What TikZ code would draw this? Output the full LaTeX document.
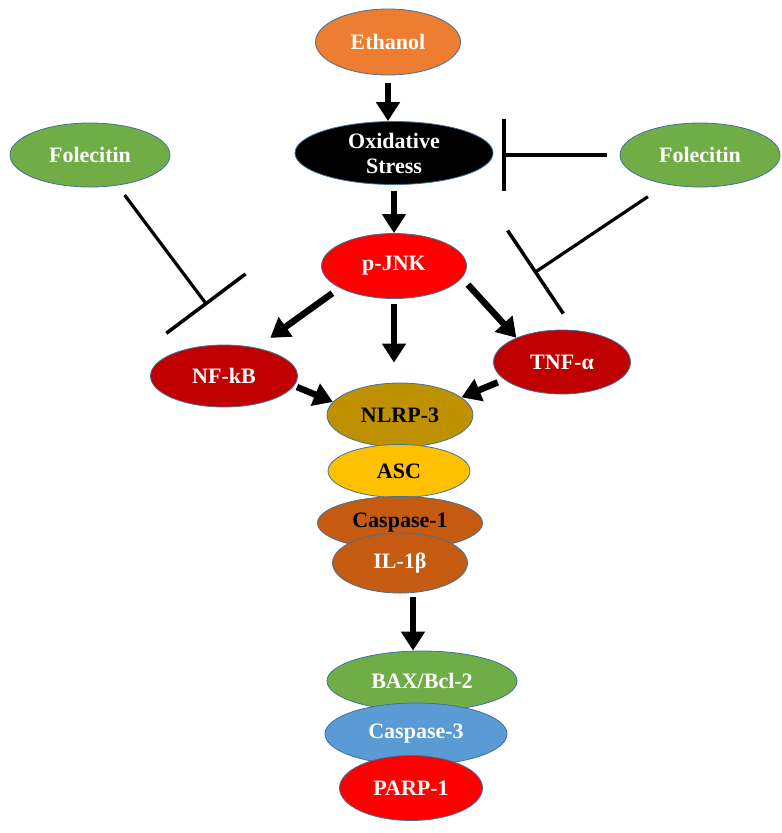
\documentclass[tikz,border=0pt]{standalone}
\usepackage{fontspec}
\setmainfont{Liberation Serif}
\usetikzlibrary{shapes.geometric, arrows.meta}

\definecolor{edgeblue}{HTML}{41719C}
\definecolor{ethorange}{HTML}{ED7D31}
\definecolor{folgreen}{HTML}{70AD47}
\definecolor{darkred}{HTML}{C00000}
\definecolor{nlrpgold}{HTML}{BF9000}
\definecolor{ascyellow}{HTML}{FFC000}
\definecolor{caspbrown}{HTML}{C55A11}
\definecolor{caspblue}{HTML}{5B9BD5}

\begin{document}
\begin{tikzpicture}[x=1pt, y=-1pt, font=\fontsize{22}{25}\selectfont\bfseries,
        bubble/.style={ellipse, draw=edgeblue, line width=0.8pt, inner sep=0pt, text=white, align=center},
        arr/.style={line width=6.5pt, -{Triangle[width=23pt, length=19pt]}},
        inhib/.style={line width=3.2pt}]
            \useasboundingbox (0,0) rectangle (782,833);

            % --- Nodes Placement ---
            \node[bubble, fill=ethorange, minimum width=145pt, minimum height=66pt] (ethanol) at (388,42) {Ethanol};
            \node[bubble, fill=black, minimum width=198pt, minimum height=63pt] (oxstress) at (394,153) {Oxidative\\Stress};
            \node[bubble, fill=folgreen, minimum width=160pt, minimum height=64pt] (folL) at (90,155) {Folecitin};
            \node[bubble, fill=folgreen, minimum width=160pt, minimum height=64pt] (folR) at (700,155) {Folecitin};
            \node[bubble, fill=red, minimum width=145pt, minimum height=65pt] (pjnk) at (394,266) {p-JNK};
            \node[bubble, fill=darkred, minimum width=147pt, minimum height=62pt] (nfkb) at (224,376) {NF-kB};
            \node[bubble, fill=darkred, minimum width=137pt, minimum height=64pt] (tnf) at (562,362) {TNF-α};

            \node[bubble, fill=nlrpgold, text=black, minimum width=146pt, minimum height=64pt] (nlrp) at (400,415) {NLRP-3};
            \node[bubble, fill=ascyellow, text=black, minimum width=142pt, minimum height=53pt] (asc) at (399,471) {ASC};
            \node[bubble, fill=caspbrown, text=black, minimum width=165pt, minimum height=53pt] (casp1) at (400,523) {Caspase-1};
            \node[bubble, fill=caspbrown, minimum width=135pt, minimum height=60pt] (il1b) at (400,563) {IL-1β};

            \node[bubble, fill=folgreen, minimum width=190pt, minimum height=60pt] (bax) at (422,681) {BAX/Bcl-2};
            \node[bubble, fill=caspblue, minimum width=182pt, minimum height=62pt] (casp3) at (416,734) {Caspase-3};
            \node[bubble, fill=red, minimum width=143pt, minimum height=65pt] (parp) at (411,788) {PARP-1};

            % --- Activation Arrows ---
            \draw[arr, shorten <=8pt] (ethanol.south) -- (ethanol.south |- oxstress.north);
            \draw[arr, shorten <=6pt] (oxstress.south) -- (oxstress.south |- pjnk.north);
            \draw[arr, shorten <=5pt, shorten >=20pt] (pjnk.south) -- (pjnk.south |- nlrp.north);
            \draw[arr, shorten <=9pt, shorten >=17pt] (pjnk.202) -- (nfkb.41);
            \draw[arr, shorten <=9pt] (pjnk.-10) -- (tnf.152);
            \draw[arr, shorten <=3pt] (nfkb.-8) -- (nlrp.169);
            \draw[arr, shorten <=7pt] (tnf.197) -- (nlrp.16);
            \draw[arr, shorten <=4pt] ([xshift=13pt]il1b.south) -- ([xshift=13pt]il1b.south |- bax.north);

            % --- Inhibition by Folecitin ---
            \coordinate (osbar) at (502,155);
            \coordinate (tnfbar) at (534,273);
            \coordinate (nfbar) at (207,305);
            \draw[inhib, -{Bar[width=72pt, line width=4pt]}, shorten <=13pt] (folR.west) -- (osbar);
            \draw[inhib, -{Bar[width=100pt, line width=3.5pt]}, shorten <=22pt] (folR.-139) -- (tnfbar);
            \draw[inhib, -{Bar[width=99pt, line width=3.5pt]}, shorten <=12pt] (folL.-48) -- (nfbar);
        \end{tikzpicture}
\end{document}
